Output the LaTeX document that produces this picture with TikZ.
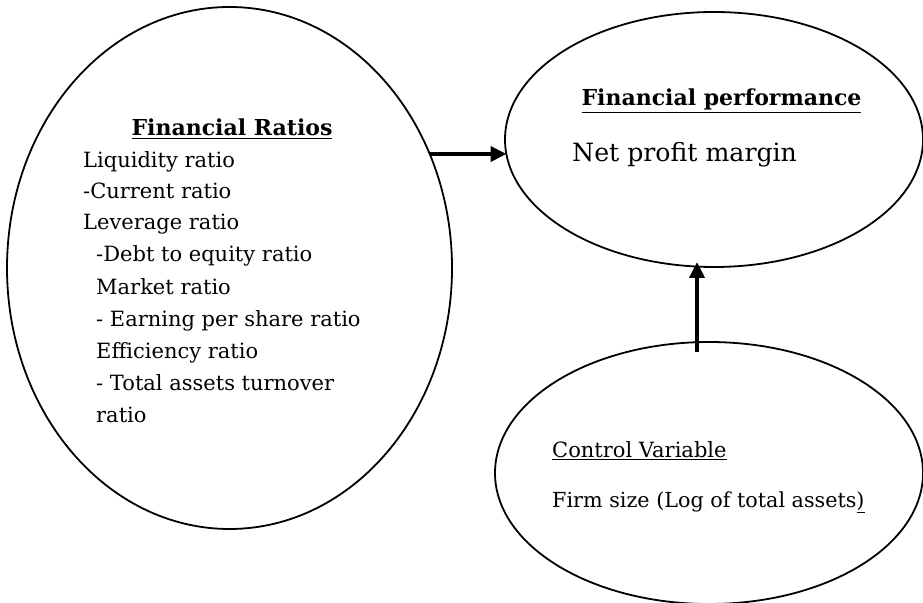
\documentclass[tikz,border=0pt]{standalone}
\usepackage{fontspec}
\setmainfont{DejaVu Serif}
\usetikzlibrary{shapes.geometric,arrows.meta}
\begin{document}
\begin{tikzpicture}[x=1pt,y=1pt,
  oval/.style={draw,ellipse,line width=1.8pt,inner sep=0pt,outer sep=0pt},
  link/.style={line width=3.8pt,-{Triangle[length=16pt,width=15pt]}},
  txt/.style={inner sep=0pt,anchor=base west,font=\fontsize{21}{25}\selectfont}]
\useasboundingbox (0,0) rectangle (923,602);
\fill[white] (0,0) rectangle (923,602);
% ellipses
\node[oval,minimum width=445pt,minimum height=522pt] (fr) at (229.5,334) {};
\node[oval,minimum width=418pt,minimum height=255pt] (fp) at (714,462.5) {};
\node[oval,minimum width=428pt,minimum height=262pt] (cv) at (709,129) {};
% texts
\node[txt,anchor=base,font=\fontsize{22}{26}\selectfont] (frt) at (232,466) {\textbf{\underline{Financial Ratios}}};
\node[txt] (l1) at (83,434) {Liquidity ratio};
\node[txt] (l2) at (83,403) {-Current ratio};
\node[txt] (l3) at (83,372) {Leverage ratio};
\node[txt] (l4) at (96,340) {-Debt to equity ratio};
\node[txt] (l5) at (96,307) {Market ratio};
\node[txt] (l6) at (96,275) {- Earning per share ratio};
\node[txt] (l7) at (96,243) {Efficiency ratio};
\node[txt] (l8) at (96,211) {- Total assets turnover};
\node[txt] (l9) at (96,179) {ratio};
\node[txt,anchor=base,font=\fontsize{22}{26}\selectfont] (fpt) at (721.5,496) {\textbf{\underline{Financial performance}}};
\node[txt,font=\fontsize{25.2}{30}\selectfont] (npm) at (572,440) {Net profit margin};
\node[txt] (cvt) at (552,144) {\underline{Control Variable}};
\node[txt,font=\fontsize{20.7}{24}\selectfont] (fs) at (552,94) {Firm size (Log of total assets\underline{)}};
% connectors
\coordinate (a1) at ([xshift=-22.5pt,yshift=114pt]fr.east);
\draw[link] (a1) -- ([xshift=1.5pt]a1 -| fp.west);
\coordinate (a2) at ([xshift=-12pt,yshift=-10pt]cv.north);
\coordinate (a3) at ([yshift=5pt]a2 |- fp.south);
\draw[link] (a2) -- (a3);
\end{tikzpicture}
\end{document}
